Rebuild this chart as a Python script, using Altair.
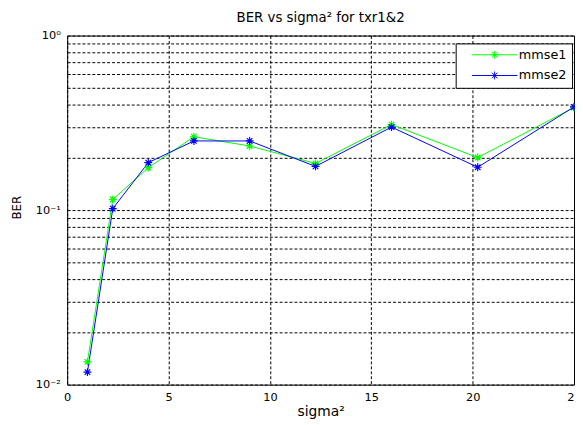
import altair as alt
import pandas as pd

# sigma^2 values (x) and BER per series
sigma2 = [1, 2.25, 4, 6.25, 9, 12.25, 16, 20.25, 25]
mmse1 = [0.0135, 0.115, 0.175, 0.263, 0.233, 0.185, 0.309, 0.200, 0.387]
mmse2 = [0.0118, 0.102, 0.187, 0.249, 0.249, 0.178, 0.299, 0.176, 0.390]
series_names = ["mmse1", "mmse2"]
series_colors = ["#00ff00", "#0000ff"]

x_ticks = [0, 5, 10, 15, 20, 25]
y_ticks = [0.01, 0.02, 0.03, 0.04, 0.05, 0.06, 0.07, 0.08, 0.09,
           0.1, 0.2, 0.3, 0.4, 0.5, 0.6, 0.7, 0.8, 0.9, 1.0]

rows = []
for name, vals in zip(series_names, [mmse1, mmse2]):
    for xv, yv in zip(sigma2, vals):
        rows.append({"sigma2": xv, "BER": yv, "series": name})
df = pd.DataFrame(rows)

FONT = "DejaVu Sans"
STAR = "M0,-1V1M-1,0H1M-0.7,-0.7L0.7,0.7M-0.7,0.7L0.7,-0.7"
LEG_SYM = "M-5.75,0H5.75M0,-1V1M-1,0H1M-0.7,-0.7L0.7,0.7M-0.7,0.7L0.7,-0.7"

xenc = alt.X("sigma2:Q",
             scale=alt.Scale(domain=[0, 25], nice=False, zero=False),
             axis=alt.Axis(title="sigma²", values=x_ticks, grid=True,
                           gridColor="black", gridDash=[3, 2], gridOpacity=1,
                           ticks=False, domain=False, labelPadding=7,
                           labelFontSize=11.5, titleFontSize=14,
                           titleFontWeight="normal", titlePadding=2,
                           labelColor="black", titleColor="black",
                           labelFlush=False))
yenc = alt.Y("BER:Q",
             scale=alt.Scale(type="log", domain=[0.01, 1], nice=False),
             axis=alt.Axis(title="BER", values=y_ticks, grid=True,
                           gridColor="black", gridDash=[3, 2], gridOpacity=1,
                           ticks=False, domain=False, labelPadding=7,
                           labelExpr="abs(datum.value-1)<1e-9 ? '10⁰' : abs(datum.value-0.1)<1e-9 ? '10⁻¹' : abs(datum.value-0.01)<1e-9 ? '10⁻²' : ''",
                           labelFontSize=11.5, titleFontSize=12,
                           titleFontWeight="normal", titleX=-44, titleY=174,
                           labelColor="black", titleColor="black",
                           labelFlush=False))
cscale = alt.Scale(domain=series_names, range=series_colors)

legend = alt.Legend(title=None, orient="none",
                    legendX=394, legendY=8,
                    symbolType=LEG_SYM, symbolSize=64,
                    symbolStrokeWidth=1, symbolOffset=28,
                    symbolFillColor="transparent",
                    labelOffset=18, labelFontSize=13,
                    labelFont=FONT, labelColor="black",
                    strokeColor="black", fillColor="white",
                    padding=5, rowPadding=7)

base = alt.Chart(df)
lines = base.mark_line(strokeWidth=1).encode(
    x=xenc, y=yenc,
    color=alt.Color("series:N", scale=cscale, legend=legend),
    detail="series:N",
)
points = base.mark_point(shape=STAR, size=64, filled=False, strokeWidth=1.2,
                         opacity=1).encode(
    x=xenc, y=yenc,
    color=alt.Color("series:N", scale=cscale, legend=legend),
)

chart = alt.layer(lines, points).properties(
    width=514, height=354,
    title=alt.TitleParams("BER vs sigma² for txr1&2", fontSize=13.5,
                          fontWeight="normal", font=FONT, color="black",
                          anchor="middle", offset=5),
    autosize=alt.AutoSizeParams(type="none"),
    padding={"left": 60, "top": 25, "right": 1, "bottom": 38},
).configure(font=FONT).configure_view(stroke="black", strokeWidth=1)

chart.save("out.html", embed_options={"renderer": "svg", "actions": False})
